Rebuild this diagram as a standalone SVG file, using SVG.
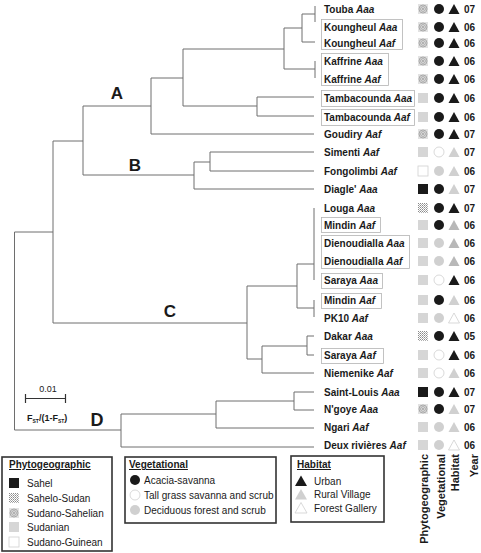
<svg xmlns="http://www.w3.org/2000/svg" xmlns:xlink="http://www.w3.org/1999/xlink" width="481" height="553" viewBox="0 0 481 553">
<style>
text{font-family:"Liberation Sans",Arial,sans-serif;fill:#1a1a1a}
.lb{font-size:10px;font-weight:bold}
.it{font-style:italic}
.yr{font-size:10px;font-weight:bold}
.cl{font-size:17px;font-weight:bold;text-anchor:middle}
.hd{font-size:11px;font-weight:bold;text-anchor:end}
.lt{font-size:10px;font-weight:bold;text-decoration:underline}
.li{font-size:10px}
.tree{fill:none;stroke:#6e6e6e;stroke-width:1}
.box{fill:none;stroke:#b4b4b4;stroke-width:0.8}
.lg{fill:#fff;stroke:#333;stroke-width:1.6}
.blk{fill:#1a1a1a}
.gry{fill:#d0d0d0}
.wht{fill:#fff;stroke:#cfcfcf;stroke-width:0.8}
.sud{fill:#d6d6d6}
.gui{fill:#fff;stroke:#d0d0d0;stroke-width:0.8}
</style>
<defs>
<pattern id="dots" width="2" height="2" patternUnits="userSpaceOnUse">
<rect width="2" height="2" fill="#fff"/>
<rect width="1" height="1" fill="#8a8a8a"/>
<rect x="1" y="1" width="1" height="1" fill="#b0b0b0"/>
</pattern>
<symbol id="ss" viewBox="0 0 10 10" width="10" height="10" overflow="visible">
<rect width="10" height="10" fill="#e2e2e2"/>
<circle cx="5" cy="5" r="4" fill="none" stroke="#9a9a9a" stroke-width="0.8"/>
<circle cx="5" cy="5" r="2.4" fill="none" stroke="#9a9a9a" stroke-width="0.8"/>
<circle cx="5" cy="5" r="0.9" fill="#9a9a9a"/>
</symbol>
<symbol id="sd" viewBox="0 0 10 10" width="10" height="10">
<rect width="10" height="10" fill="url(#dots)"/>
</symbol>
</defs>

<g id="connectors" class="tree">
<path d="M14.5,232V430M14.5,232H53M14.5,430H121"/>
<path d="M53,141V323M53,141H83M53,323H247"/>
<path d="M83,106V175M83,106H151M83,175H194"/>
<path d="M151,78V134M151,78H183M151,134H314"/>
<path d="M183,49V106M183,49H284M183,106H257"/>
<path d="M284,28V69M284,28H302M284,69H315"/>
<path d="M302,14V42M302,14H315M302,42H315"/>
<path d="M315,6V22M315,61V78"/>
<path d="M257,97V116M257,97H314M257,116H314"/>
<path d="M194,162V189M194,162H210M194,189H314"/>
<path d="M210,152V171M210,152H314M210,171H314"/>
<path d="M247,286V359M247,286H297M247,359H262"/>
<path d="M297,264V308M297,264H314M297,308H314"/>
<path d="M314,208V280M314,300V317"/>
<path d="M262,346V373M262,346H307M262,373H314"/>
<path d="M307,336V355M307,336H314M307,355H314"/>
<path d="M121,414V447M121,414H216M121,447H314"/>
<path d="M216,401V428M216,401H294M216,428H314"/>
<path d="M294,392V410M294,392H314M294,410H314"/>
</g>

<g id="clade-labels">
<text class="cl" x="117" y="99">A</text>
<text class="cl" x="135" y="171">B</text>
<text class="cl" x="170" y="317">C</text>
<text class="cl" x="97" y="426" style="font-size:18px">D</text>
</g>

<g id="scale">
<path d="M25,398.5H66M25.5,394V403M65.5,394V403" fill="none" stroke="#333" stroke-width="1.2"/>
<text x="48" y="392" style="font-size:9px;text-anchor:middle">0.01</text>
<text x="27" y="421" style="font-size:9px;font-weight:bold">F<tspan style="font-size:5px" dy="1.5">ST</tspan><tspan dy="-1.5">/(1-F</tspan><tspan style="font-size:5px" dy="1.5">ST</tspan><tspan dy="-1.5">)</tspan></text>
</g>

<g id="label-boxes">
<rect class="box" x="321.5" y="19.5" width="81" height="30"/>
<rect class="box" x="321.5" y="53.5" width="67" height="32"/>
<rect class="box" x="321.5" y="90.5" width="93" height="16"/>
<rect class="box" x="321.5" y="109.5" width="93" height="16"/>
<rect class="box" x="321.5" y="217.5" width="59" height="15"/>
<rect class="box" x="321.5" y="235.5" width="88" height="33"/>
<rect class="box" x="321.5" y="273.5" width="61" height="15"/>
<rect class="box" x="321.5" y="293.5" width="60" height="15"/>
<rect class="box" x="321.5" y="348.5" width="62" height="15"/>
</g>

<g id="leaves">
<g id="r0"><text class="lb" x="324" y="12.5">Touba <tspan class="it">Aaa</tspan></text><use href="#ss" x="418" y="4"/><circle class="blk" cx="439" cy="9" r="5"/><polygon class="blk" points="454,4 459.5,14 448.5,14"/><text class="yr" x="464" y="12.5">07</text></g>
<g id="r1"><text class="lb" x="324" y="30.5">Koungheul <tspan class="it">Aaa</tspan></text><use href="#ss" x="418" y="22"/><circle class="blk" cx="439" cy="27" r="5"/><polygon class="blk" points="454,22 459.5,32 448.5,32"/><text class="yr" x="464" y="30.5">06</text></g>
<g id="r2"><text class="lb" x="324" y="46.5">Koungheul <tspan class="it">Aaf</tspan></text><use href="#ss" x="418" y="38"/><circle class="blk" cx="439" cy="43" r="5"/><polygon class="blk" points="454,38 459.5,48 448.5,48"/><text class="yr" x="464" y="46.5">06</text></g>
<g id="r3"><text class="lb" x="324" y="64.5">Kaffrine <tspan class="it">Aaa</tspan></text><use href="#ss" x="418" y="56"/><circle class="blk" cx="439" cy="61" r="5"/><polygon class="blk" points="454,56 459.5,66 448.5,66"/><text class="yr" x="464" y="64.5">06</text></g>
<g id="r4"><text class="lb" x="324" y="82.5">Kaffrine <tspan class="it">Aaf</tspan></text><use href="#ss" x="418" y="74"/><circle class="blk" cx="439" cy="79" r="5"/><polygon class="blk" points="454,74 459.5,84 448.5,84"/><text class="yr" x="464" y="82.5">06</text></g>
<g id="r5"><text class="lb" x="324" y="101.5">Tambacounda <tspan class="it">Aaa</tspan></text><rect class="sud" x="418" y="93" width="10" height="10"/><circle class="blk" cx="439" cy="98" r="5"/><polygon class="blk" points="454,93 459.5,103 448.5,103"/><text class="yr" x="464" y="101.5">06</text></g>
<g id="r6"><text class="lb" x="324" y="120.5">Tambacounda <tspan class="it">Aaf</tspan></text><rect class="sud" x="418" y="112" width="10" height="10"/><circle class="blk" cx="439" cy="117" r="5"/><polygon class="blk" points="454,112 459.5,122 448.5,122"/><text class="yr" x="464" y="120.5">06</text></g>
<g id="r7"><text class="lb" x="324" y="137.5">Goudiry <tspan class="it">Aaf</tspan></text><use href="#ss" x="418" y="129"/><circle class="blk" cx="439" cy="134" r="5"/><polygon class="blk" points="454,129 459.5,139 448.5,139"/><text class="yr" x="464" y="137.5">07</text></g>
<g id="r8"><text class="lb" x="324" y="155.5">Simenti <tspan class="it">Aaf</tspan></text><rect class="sud" x="418" y="147" width="10" height="10"/><circle class="wht" cx="439" cy="152" r="5"/><polygon class="gry" points="454,147 459.5,157 448.5,157"/><text class="yr" x="464" y="155.5">07</text></g>
<g id="r9"><text class="lb" x="324" y="174.5">Fongolimbi <tspan class="it">Aaf</tspan></text><rect class="gui" x="418" y="166" width="10" height="10"/><circle class="gry" cx="439" cy="171" r="5"/><polygon class="gry" points="454,166 459.5,176 448.5,176"/><text class="yr" x="464" y="174.5">06</text></g>
<g id="r10"><text class="lb" x="324" y="192.5">Diagle' <tspan class="it">Aaa</tspan></text><rect class="blk" x="418" y="184" width="10" height="10"/><circle class="blk" cx="439" cy="189" r="5"/><polygon class="gry" points="454,184 459.5,194 448.5,194"/><text class="yr" x="464" y="192.5">07</text></g>
<g id="r11"><text class="lb" x="324" y="211.5">Louga <tspan class="it">Aaa</tspan></text><use href="#sd" x="418" y="203"/><circle class="blk" cx="439" cy="208" r="5"/><polygon class="blk" points="454,203 459.5,213 448.5,213"/><text class="yr" x="464" y="211.5">07</text></g>
<g id="r12"><text class="lb" x="324" y="228.5">Mindin <tspan class="it">Aaf</tspan></text><rect class="sud" x="418" y="220" width="10" height="10"/><circle class="blk" cx="439" cy="225" r="5"/><polygon fill="#b8b8b8" points="454,220 459.5,230 448.5,230"/><text class="yr" x="464" y="228.5">06</text></g>
<g id="r13"><text class="lb" x="324" y="246.5">Dienoudialla <tspan class="it">Aaa</tspan></text><rect class="sud" x="418" y="238" width="10" height="10"/><circle class="gry" cx="439" cy="243" r="5"/><polygon fill="#b8b8b8" points="454,238 459.5,248 448.5,248"/><text class="yr" x="464" y="246.5">06</text></g>
<g id="r14"><text class="lb" x="324" y="264.5">Dienoudialla <tspan class="it">Aaf</tspan></text><rect class="sud" x="418" y="256" width="10" height="10"/><circle class="gry" cx="439" cy="261" r="5"/><polygon fill="#b8b8b8" points="454,256 459.5,266 448.5,266"/><text class="yr" x="464" y="264.5">06</text></g>
<g id="r15"><text class="lb" x="324" y="283.5">Saraya <tspan class="it">Aaa</tspan></text><rect class="sud" x="418" y="275" width="10" height="10"/><circle class="wht" cx="439" cy="280" r="5"/><polygon class="blk" points="454,275 459.5,285 448.5,285"/><text class="yr" x="464" y="283.5">06</text></g>
<g id="r16"><text class="lb" x="324" y="303.5">Mindin <tspan class="it">Aaf</tspan></text><rect class="sud" x="418" y="295" width="10" height="10"/><circle class="blk" cx="439" cy="300" r="5"/><polygon class="gry" points="454,295 459.5,305 448.5,305"/><text class="yr" x="464" y="303.5">06</text></g>
<g id="r17"><text class="lb" x="324" y="321.5">PK10 <tspan class="it">Aaf</tspan></text><rect class="sud" x="418" y="313" width="10" height="10"/><circle class="gry" cx="439" cy="318" r="5"/><polygon class="wht" points="454,313 459.5,323 448.5,323"/><text class="yr" x="464" y="321.5">06</text></g>
<g id="r18"><text class="lb" x="324" y="339.5">Dakar <tspan class="it">Aaa</tspan></text><use href="#sd" x="418" y="331"/><circle class="blk" cx="439" cy="336" r="5"/><polygon class="blk" points="454,331 459.5,341 448.5,341"/><text class="yr" x="464" y="339.5">05</text></g>
<g id="r19"><text class="lb" x="324" y="358.5">Saraya <tspan class="it">Aaf</tspan></text><rect class="sud" x="418" y="350" width="10" height="10"/><circle class="wht" cx="439" cy="355" r="5"/><polygon class="blk" points="454,350 459.5,360 448.5,360"/><text class="yr" x="464" y="358.5">06</text></g>
<g id="r20"><text class="lb" x="324" y="376.5">Niemenike <tspan class="it">Aaf</tspan></text><rect class="sud" x="418" y="368" width="10" height="10"/><circle class="wht" cx="439" cy="373" r="5"/><polygon class="gry" points="454,368 459.5,378 448.5,378"/><text class="yr" x="464" y="376.5">06</text></g>
<g id="r21"><text class="lb" x="324" y="395.5">Saint-Louis <tspan class="it">Aaa</tspan></text><rect class="blk" x="418" y="387" width="10" height="10"/><circle class="blk" cx="439" cy="392" r="5"/><polygon class="blk" points="454,387 459.5,397 448.5,397"/><text class="yr" x="464" y="395.5">07</text></g>
<g id="r22"><text class="lb" x="324" y="412.5">N'goye <tspan class="it">Aaa</tspan></text><use href="#ss" x="418" y="404"/><circle class="blk" cx="439" cy="409" r="5"/><polygon class="gry" points="454,404 459.5,414 448.5,414"/><text class="yr" x="464" y="412.5">07</text></g>
<g id="r23"><text class="lb" x="324" y="430.5">Ngari <tspan class="it">Aaf</tspan></text><rect class="sud" x="418" y="422" width="10" height="10"/><circle class="gry" cx="439" cy="427" r="5"/><polygon class="gry" points="454,422 459.5,432 448.5,432"/><text class="yr" x="464" y="430.5">06</text></g>
<g id="r24"><text class="lb" x="324" y="448.5">Deux rivières <tspan class="it">Aaf</tspan></text><rect class="sud" x="418" y="440" width="10" height="10"/><circle class="gry" cx="439" cy="445" r="5"/><polygon class="wht" points="454,440 459.5,450 448.5,450"/><text class="yr" x="464" y="448.5">06</text></g>
</g>

<g id="column-headers">
<text class="hd" transform="translate(428,454) rotate(-90)">Phytogeographic</text>
<text class="hd" transform="translate(445,454) rotate(-90)">Vegetational</text>
<text class="hd" transform="translate(459,454) rotate(-90)">Habitat</text>
<text class="hd" transform="translate(478,454) rotate(-90)">Year</text>
</g>

<g id="legend-phyto">
<rect class="lg" x="2" y="457" width="110" height="94"/>
<text class="lt" x="9" y="468">Phytogeographic</text>
<rect class="blk" x="9" y="478" width="10" height="10"/><text class="li" x="27" y="487">Sahel</text>
<use href="#sd" x="9" y="493"/><text class="li" x="27" y="502">Sahelo-Sudan</text>
<use href="#ss" x="9" y="508"/><text class="li" x="27" y="517">Sudano-Sahelian</text>
<rect class="sud" x="9" y="522" width="10" height="10"/><text class="li" x="27" y="531">Sudanian</text>
<rect class="gui" x="9" y="537" width="10" height="10"/><text class="li" x="27" y="546">Sudano-Guinean</text>
</g>

<g id="legend-veg">
<rect class="lg" x="125" y="457" width="151" height="66"/>
<text class="lt" x="129" y="468">Vegetational</text>
<circle class="blk" cx="135" cy="480" r="5"/><text class="li" x="144" y="484">Acacia-savanna</text>
<circle class="wht" cx="135" cy="495" r="5"/><text class="li" x="144" y="499">Tall grass savanna and scrub</text>
<circle class="gry" cx="135" cy="510" r="5"/><text class="li" x="144" y="514">Deciduous forest and scrub</text>
</g>

<g id="legend-habitat">
<rect class="lg" x="291" y="456" width="93" height="66"/>
<text class="lt" x="297" y="468">Habitat</text>
<polygon class="blk" points="301,475.5 307,486 295,486"/><text class="li" x="314" y="485">Urban</text>
<polygon class="gry" points="301,489 307,499.5 295,499.5"/><text class="li" x="314" y="498">Rural Village</text>
<polygon class="wht" points="301,502.5 307,513 295,513"/><text class="li" x="314" y="512">Forest Gallery</text>
</g>
</svg>
